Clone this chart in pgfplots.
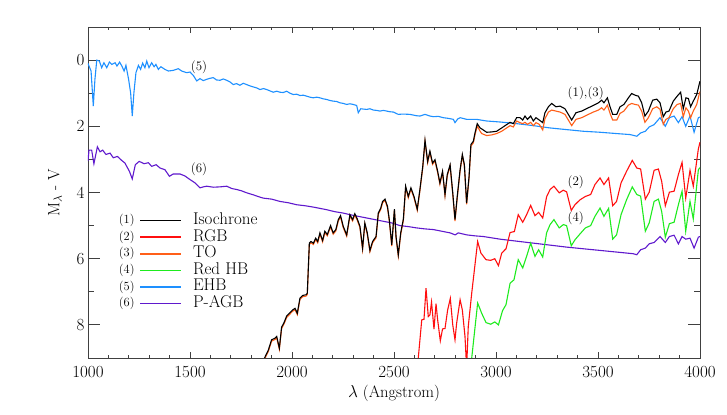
\documentclass[border=0pt]{standalone}
\usepackage{pgfplots}
\pgfplotsset{compat=1.18}
\usepackage{pgfplotstable}
\usetikzlibrary{calc}

\definecolor{cIso}{RGB}{0,0,0}
\definecolor{cRGB}{RGB}{255,15,15}
\definecolor{cTO}{RGB}{255,95,25}
\definecolor{cRHB}{RGB}{30,235,30}
\definecolor{cEHB}{RGB}{30,144,255}
\definecolor{cPAGB}{RGB}{95,25,205}

% EHB
\pgfplotstableread{
x y
1000 0.10
1005 0.18
1015 0.33
1026 1.39
1034 0.58
1043 0.00
1056 0.03
1067 0.23
1078 0.08
1092 0.23
1105 0.06
1117 0.13
1133 0.08
1142 0.18
1155 0.06
1166 0.18
1177 0.33
1186 0.16
1199 0.58
1209 0.99
1217 1.69
1225 0.99
1235 0.38
1247 0.16
1258 0.28
1268 0.09
1279 0.23
1288 0.03
1299 0.23
1312 0.08
1324 0.20
1333 0.13
1345 0.28
1357 0.20
1377 0.28
1394 0.33
1418 0.31
1443 0.26
1459 0.33
1484 0.38
1500 0.36
1516 0.46
1533 0.63
1549 0.56
1565 0.62
1582 0.58
1598 0.55
1614 0.53
1630 0.60
1647 0.61
1663 0.57
1680 0.61
1696 0.66
1712 0.74
1728 0.71
1745 0.76
1761 0.70
1778 0.74
1794 0.78
1810 0.81
1827 0.84
1843 0.89
1860 0.86
1876 0.89
1892 0.93
1908 0.97
1925 0.94
1941 0.97
1957 0.98
1974 0.94
1990 1.00
2006 1.04
2023 1.03
2039 1.07
2056 1.06
2072 1.09
2088 1.12
2104 1.14
2121 1.12
2137 1.14
2153 1.17
2170 1.19
2186 1.22
2202 1.24
2219 1.25
2235 1.29
2252 1.31
2268 1.34
2284 1.32
2300 1.34
2317 1.37
2325 1.59
2337 1.47
2350 1.48
2366 1.49
2382 1.47
2399 1.51
2415 1.52
2431 1.54
2448 1.52
2464 1.54
2480 1.56
2497 1.57
2521 1.64
2545 1.63
2578 1.64
2610 1.68
2627 1.69
2652 1.64
2676 1.69
2693 1.71
2717 1.70
2742 1.74
2766 1.76
2791 1.79
2799 1.89
2812 1.78
2824 1.74
2856 1.79
2905 1.79
2954 1.84
3020 1.87
3101 1.92
3183 1.98
3265 2.05
3346 2.10
3428 2.15
3510 2.18
3592 2.22
3657 2.25
3690 2.30
3709 2.20
3732 2.15
3751 2.02
3775 1.95
3804 1.74
3830 2.00
3850 1.74
3873 1.69
3894 1.89
3912 1.71
3930 2.00
3951 1.69
3971 2.18
3992 1.74
4000 1.72
}\tblEHB

% P-AGB
\pgfplotstableread{
x y
1000 3.05
1005 2.72
1018 2.72
1029 3.13
1046 2.62
1059 2.77
1072 2.72
1088 2.85
1108 2.81
1124 2.95
1144 2.91
1165 3.03
1181 3.11
1203 3.36
1217 3.59
1232 3.16
1251 3.06
1275 3.13
1296 3.10
1312 3.21
1334 3.16
1353 3.26
1377 3.31
1399 3.51
1418 3.44
1451 3.44
1475 3.50
1500 3.61
1525 3.71
1549 3.86
1565 3.83
1582 3.81
1614 3.84
1647 3.83
1680 3.81
1705 3.88
1729 3.91
1753 3.95
1778 4.01
1810 4.07
1843 4.14
1859 4.17
1900 4.20
1941 4.27
1982 4.31
2023 4.37
2064 4.40
2104 4.44
2137 4.48
2170 4.52
2210 4.58
2250 4.62
2284 4.67
2325 4.72
2366 4.77
2407 4.82
2448 4.87
2489 4.92
2529 5.00
2570 5.03
2611 5.07
2652 5.10
2693 5.12
2734 5.17
2775 5.22
2800 5.28
2815 5.22
2856 5.28
2897 5.31
2938 5.33
2979 5.37
3020 5.41
3101 5.47
3183 5.53
3265 5.59
3346 5.65
3428 5.70
3510 5.75
3592 5.80
3673 5.85
3690 5.88
3709 5.73
3732 5.68
3751 5.55
3775 5.51
3804 5.33
3830 5.51
3850 5.33
3873 5.29
3894 5.55
3912 5.33
3930 5.41
3951 5.38
3971 5.68
3992 5.35
4000 5.33
}\tblPAGB

% RGB
\pgfplotstableread{
x y
2612 9.30
2619 9.00
2636 7.85
2647 7.83
2657 6.89
2668 7.75
2676 7.70
2684 7.31
2696 8.13
2706 7.36
2714 7.85
2727 8.48
2738 8.12
2750 8.11
2763 7.55
2776 7.20
2788 8.00
2799 8.45
2807 7.95
2824 7.24
2835 7.55
2848 8.35
2856 9.30
2864 8.05
2881 7.04
2910 5.48
2926 5.83
2951 6.03
2974 6.05
2994 6.00
3012 6.21
3028 5.83
3049 5.70
3069 5.21
3090 5.18
3109 4.67
3131 4.90
3150 4.67
3170 4.39
3191 4.70
3209 4.60
3229 4.77
3248 4.13
3265 3.91
3284 3.81
3310 4.01
3330 3.93
3346 3.98
3369 4.54
3387 4.37
3412 4.22
3438 4.12
3464 4.06
3485 3.76
3510 3.56
3529 3.76
3552 3.56
3572 4.40
3591 4.27
3613 3.71
3640 3.36
3668 3.03
3690 3.26
3709 3.29
3732 4.20
3751 3.99
3775 3.33
3796 3.29
3812 3.66
3830 4.40
3850 3.99
3873 3.96
3894 3.46
3912 3.09
3930 4.17
3951 3.33
3967 3.81
3992 2.68
4000 2.48
}\tblRGB

% Red HB
\pgfplotstableread{
x y
2872 9.30
2881 9.00
2910 7.34
2930 7.65
2951 7.93
2974 7.98
2994 7.91
3012 8.00
3032 7.57
3049 7.39
3069 6.74
3088 6.64
3109 6.03
3131 6.28
3150 5.93
3170 5.53
3191 5.93
3209 5.73
3229 5.95
3248 5.22
3265 4.97
3284 4.82
3310 5.07
3330 4.97
3346 5.00
3369 5.61
3387 5.43
3412 5.25
3438 5.07
3464 5.00
3485 4.72
3510 4.47
3529 4.72
3552 4.48
3572 5.41
3591 5.28
3613 4.67
3640 4.22
3668 3.83
3690 4.06
3709 4.11
3732 5.17
3751 4.92
3775 4.27
3796 4.20
3812 4.57
3830 5.35
3850 4.94
3873 4.90
3894 4.37
3912 3.96
3930 5.17
3951 4.27
3967 4.80
3992 3.31
4000 3.25
}\tblRHB

% Isochrone
\pgfplotstableread{
x y
1855 9.30
1863 9.03
1884 8.76
1900 8.45
1917 8.40
1925 8.35
1938 8.70
1949 8.07
1961 7.93
1974 7.73
1987 7.65
2003 7.55
2015 7.50
2026 7.65
2039 7.19
2052 7.11
2069 7.09
2075 7.04
2085 5.53
2093 5.48
2105 5.53
2116 5.38
2126 5.48
2137 5.22
2150 5.45
2161 5.17
2173 5.27
2189 5.00
2202 5.22
2215 5.12
2227 4.82
2238 4.70
2251 5.02
2268 5.28
2284 4.67
2297 4.82
2308 4.64
2320 4.80
2333 5.02
2346 5.68
2357 4.92
2369 5.22
2382 5.75
2395 5.48
2412 5.33
2423 4.62
2435 4.47
2444 4.27
2456 4.20
2468 4.42
2477 4.82
2489 5.58
2502 4.50
2510 5.33
2521 5.88
2533 5.22
2546 4.80
2557 3.81
2570 4.12
2583 3.86
2598 4.12
2614 4.50
2627 3.91
2641 3.21
2652 2.42
2665 3.06
2676 2.75
2689 3.11
2701 3.01
2714 3.36
2725 3.71
2738 3.36
2750 4.06
2761 3.46
2775 3.16
2788 4.01
2799 4.82
2810 4.12
2824 3.31
2835 2.85
2845 3.16
2856 4.32
2868 3.51
2877 2.55
2889 2.45
2897 2.20
2908 1.92
2922 2.05
2930 2.08
2954 2.18
2979 2.17
3003 2.15
3028 2.05
3052 1.95
3069 1.88
3085 1.92
3101 1.74
3118 1.74
3131 1.81
3142 1.69
3154 1.79
3170 1.69
3183 1.84
3196 1.74
3212 1.81
3229 1.89
3240 1.59
3257 1.41
3273 1.31
3294 1.41
3314 1.39
3338 1.47
3371 1.81
3392 1.59
3420 1.54
3453 1.44
3477 1.37
3502 1.29
3518 1.21
3529 1.29
3546 1.14
3559 1.41
3572 1.64
3592 1.64
3608 1.41
3627 1.34
3649 1.14
3665 1.01
3682 1.06
3698 1.09
3714 1.29
3730 1.69
3747 1.54
3768 1.21
3788 1.18
3804 1.29
3820 1.71
3833 1.57
3848 1.54
3869 1.24
3888 1.09
3905 0.97
3918 1.47
3931 1.14
3943 1.16
3954 1.41
3967 1.24
3984 1.04
3997 0.71
4000 0.64
}\tblIso

% TO
\pgfplotstableread{
x y
1855 9.34
1863 9.07
1884 8.80
1900 8.49
1917 8.44
1925 8.39
1938 8.74
1949 8.11
1961 7.97
1974 7.77
1987 7.69
2003 7.59
2015 7.54
2026 7.69
2039 7.23
2052 7.15
2069 7.13
2075 7.08
2085 5.57
2093 5.52
2105 5.57
2116 5.42
2126 5.52
2137 5.26
2150 5.49
2161 5.21
2173 5.31
2189 5.04
2202 5.26
2215 5.16
2227 4.86
2238 4.74
2251 5.06
2268 5.32
2284 4.71
2297 4.86
2308 4.68
2320 4.84
2333 5.06
2346 5.72
2357 4.96
2369 5.26
2382 5.79
2395 5.52
2412 5.37
2423 4.66
2435 4.51
2444 4.31
2456 4.24
2468 4.46
2477 4.86
2489 5.62
2502 4.54
2510 5.37
2521 5.92
2533 5.26
2546 4.84
2557 3.85
2570 4.16
2583 3.90
2598 4.16
2614 4.54
2627 3.95
2641 3.25
2652 2.46
2665 3.10
2676 2.79
2689 3.15
2701 3.05
2714 3.40
2725 3.75
2738 3.40
2750 4.10
2761 3.50
2775 3.20
2788 4.05
2799 4.86
2810 4.16
2824 3.35
2835 2.89
2845 3.20
2856 4.36
2868 3.55
2877 2.60
2889 2.50
2897 2.26
2908 1.99
2922 2.15
2930 2.22
2954 2.28
2979 2.26
3003 2.22
3028 2.15
3052 2.05
3069 1.98
3085 2.02
3101 1.84
3118 1.89
3131 1.92
3142 1.88
3154 1.94
3170 1.88
3183 1.98
3196 1.89
3212 1.94
3229 2.11
3240 1.77
3257 1.57
3273 1.51
3294 1.54
3314 1.57
3338 1.64
3371 1.98
3392 1.79
3420 1.74
3453 1.64
3477 1.57
3502 1.51
3518 1.44
3529 1.51
3546 1.36
3559 1.61
3572 1.81
3592 1.81
3608 1.61
3627 1.54
3649 1.36
3665 1.31
3682 1.34
3698 1.36
3714 1.54
3730 1.88
3747 1.74
3768 1.47
3788 1.41
3804 1.49
3820 1.94
3833 1.79
3848 1.74
3869 1.47
3888 1.34
3905 1.31
3918 1.71
3931 1.44
3943 1.54
3954 1.74
3967 1.54
3984 1.34
3997 1.01
4000 0.95
}\tblTO

\begin{document}
\begin{tikzpicture}
\begin{axis}[
    name=ax,
    scale only axis,
    width=612pt, height=331pt,
    xmin=1000, xmax=4000,
    ymin=-1, ymax=9,
    y dir=reverse,
    xtick={1000,1500,...,4000},
    ytick={0,2,4,6,8},
    minor x tick num=4,
    minor y tick num=1,
    axis line style={black!75, line width=0.8pt},
    every tick/.style={black!75, line width=0.8pt},
    major x tick style={/pgfplots/major tick length=6.3pt},
    minor x tick style={/pgfplots/minor tick length=3pt},
    major y tick style={/pgfplots/major tick length=12.3pt},
    minor y tick style={/pgfplots/minor tick length=6pt},
    /pgf/number format/assume math mode=true,
    /pgf/number format/1000 sep={},
    tick label style={font=\fontsize{17}{17}\selectfont},
    xticklabel style={yshift=-5pt},
    xlabel={$\lambda$ (Angstrom)},
    ylabel={M$_{\lambda}$ - V},
    every axis x label/.style={at={(axis description cs:0.5,-0.1057)}, anchor=center,
        font=\fontsize{16.5}{16.5}\selectfont},
    every axis y label/.style={at={(axis description cs:-0.0539,0.5)}, rotate=90, anchor=center,
        font=\fontsize{16.5}{16.5}\selectfont},
    legend image code/.code={\draw[#1, line width=1.6pt] (0pt,0pt) -- (41pt,0pt);},
    legend cell align=left,
    legend style={at={(axis cs:1251,4.60)}, anchor=north west, draw=none, fill=none,
        inner sep=0pt, column sep=10pt, row sep=0.6pt,
        font=\fontsize{17}{17}\selectfont,
        nodes={text height=11pt, text depth=3pt, inner sep=1pt}},
    every axis plot/.append style={line width=1.1pt},
]
\addlegendimage{color=cIso}
\addlegendimage{color=cRGB}
\addlegendimage{color=cTO}
\addlegendimage{color=cRHB}
\addlegendimage{color=cEHB}
\addlegendimage{color=cPAGB}
\legend{Isochrone, RGB, TO, Red HB, EHB, P-AGB}

\addplot[cEHB, forget plot] table {\tblEHB};
\addplot[cPAGB, forget plot] table {\tblPAGB};
\addplot[cRGB, forget plot] table {\tblRGB};
\addplot[cRHB, forget plot] table {\tblRHB};
\addplot[cTO, forget plot] table {\tblTO};
\addplot[cIso, forget plot] table {\tblIso};

\begin{scope}[every node/.style={font=\fontsize{12.5}{12.5}\selectfont}]
\node at (axis cs:1190,4.85) {(1)};
\node at (axis cs:1190,5.35) {(2)};
\node at (axis cs:1190,5.85) {(3)};
\node at (axis cs:1190,6.36) {(4)};
\node at (axis cs:1190,6.86) {(5)};
\node at (axis cs:1190,7.36) {(6)};
\end{scope}
\begin{scope}[every node/.style={font=\fontsize{13}{13}\selectfont}]
\node at (axis cs:1544,0.22) {(5)};
\node at (axis cs:1544,3.29) {(6)};
\node at (axis cs:3440,0.99) {(1),(3)};
\node at (axis cs:3391,3.69) {(2)};
\node at (axis cs:3391,4.79) {(4)};
\end{scope}
\end{axis}
\path ($(ax.south west)+(-88pt,-57pt)$) rectangle ($(ax.north east)+(27pt,27pt)$);
\end{tikzpicture}
\end{document}
